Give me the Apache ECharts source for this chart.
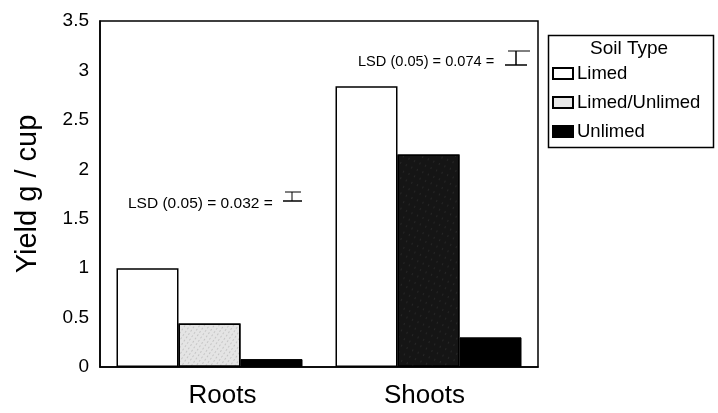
<!DOCTYPE html>
<html>
<head>
<meta charset="utf-8">
<script src="https://cdn.jsdelivr.net/npm/echarts@6/dist/echarts.min.js"></script>
<style>
  html, body { margin: 0; padding: 0; background: #fff; }
  #chart { width: 718px; height: 413px; }
</style>
</head>
<body>
<div id="chart"></div>
<script>
const categories = ['Roots', 'Shoots']
const seriesNames = ['Limed', 'Limed/Unlimed', 'Unlimed']
const limed = [1.0, 2.84]
const limedUnlimed = [0.44, 2.15]
const unlimed = [0.08, 0.3]
const yTicks = [0, 0.5, 1, 1.5, 2, 2.5, 3, 3.5]
const lsdLabels = ['LSD (0.05) = 0.032 =', 'LSD (0.05) = 0.074 =']

const font = 'Liberation Sans, Arial, sans-serif'
const chart = echarts.init(document.getElementById('chart'))

// speckled fill used for the mixed soil bars
const speckleLight = {
  symbol: 'rect', symbolSize: 0.6, color: 'rgba(0,0,0,0.45)',
  dashArrayX: [1, 3], dashArrayY: [2, 2], rotation: 0.6
}
const speckleDark = {
  symbol: 'rect', symbolSize: 0.5, color: 'rgba(255,255,255,0.3)',
  dashArrayX: [1, 5], dashArrayY: [2, 5], rotation: 0.4
}

const barBase = { type: 'bar', barWidth: 62, barGap: '0%' }

const option = {
  animation: false,
  backgroundColor: '#fff',
  grid: {
    left: 100, right: 180, top: 21, bottom: 46,
    show: true, borderColor: '#000', borderWidth: 1.5, backgroundColor: 'transparent'
  },
  xAxis: {
    type: 'category',
    data: categories,
    axisLine: { lineStyle: { color: '#000', width: 1.5 } },
    axisTick: { show: false },
    axisLabel: {
      color: '#000', fontSize: 26, fontFamily: font, margin: 16,
      formatter: v => v === 'Roots' ? '{r|' + v + '}' : '{s|' + v + '}',
      rich: {
        r: { fontSize: 26, fontFamily: font, color: '#000', padding: [0, 0, 0, 26] },
        s: { fontSize: 26, fontFamily: font, color: '#000', padding: [0, 8, 0, 0] }
      }
    }
  },
  yAxis: {
    type: 'value',
    min: 0, max: 3.5, interval: 0.5,
    name: 'Yield g / cup',
    nameLocation: 'middle',
    nameGap: 58,
    nameTextStyle: { color: '#000', fontSize: 29, fontFamily: font },
    splitLine: { show: false },
    axisLine: { show: true, lineStyle: { color: '#000', width: 1.5 } },
    axisTick: { show: false },
    axisLabel: {
      color: '#000', fontSize: 19, fontFamily: font, margin: 11,
      formatter: v => yTicks.includes(v) ? String(v) : ''
    }
  },
  legend: {
    orient: 'vertical',
    left: 547, top: 59,
    itemWidth: 20, itemHeight: 11, itemGap: 10,
    icon: 'rect',
    data: seriesNames,
    textStyle: { color: '#000', fontSize: 18.5, fontFamily: font, padding: [0, 0, 0, -1] }
  },
  graphic: [
    { type: 'rect', left: 546, top: 33, shape: { width: 165, height: 112 },
      style: { fill: 'none', stroke: '#000', lineWidth: 1.5 } },
    { type: 'text', left: 590, top: 39,
      style: { text: 'Soil Type', fill: '#000', fontSize: 19, fontFamily: font } },
    { type: 'text', left: 128, top: 196,
      style: { text: lsdLabels[0], fill: '#000', fontSize: 15.5, fontFamily: font } },
    { type: 'polyline', shape: { points: [[285, 192], [301, 192]] }, style: { stroke: '#000', lineWidth: 1 } },
    { type: 'polyline', shape: { points: [[283, 201], [302, 201]] }, style: { stroke: '#000', lineWidth: 1.5 } },
    { type: 'polyline', shape: { points: [[292, 192], [292, 201]] }, style: { stroke: '#000', lineWidth: 1 } },
    { type: 'text', left: 358, top: 54,
      style: { text: lsdLabels[1], fill: '#000', fontSize: 14.6, fontFamily: font } },
    { type: 'polyline', shape: { points: [[508, 51], [530, 51]] }, style: { stroke: '#000', lineWidth: 1 } },
    { type: 'polyline', shape: { points: [[505, 65], [527, 65]] }, style: { stroke: '#000', lineWidth: 1.5 } },
    { type: 'polyline', shape: { points: [[516, 51], [516, 65]] }, style: { stroke: '#000', lineWidth: 1.5 } }
  ],
  series: [
    Object.assign({}, barBase, {
      name: seriesNames[0],
      data: limed,
      itemStyle: { color: '#fff', borderColor: '#000', borderWidth: 1.5 }
    }),
    Object.assign({}, barBase, {
      name: seriesNames[1],
      data: limedUnlimed.map((v, i) => ({
        value: v,
        itemStyle: i === 0
          ? { color: '#e4e4e4', borderColor: '#000', borderWidth: 1.5, decal: speckleLight }
          : { color: '#151515', borderColor: '#000', borderWidth: 1.5, decal: speckleDark }
      })),
      itemStyle: { color: '#e8e8e8', borderColor: '#000', borderWidth: 1.5 }
    }),
    Object.assign({}, barBase, {
      name: seriesNames[2],
      data: unlimed,
      itemStyle: { color: '#000', borderColor: '#000', borderWidth: 1 }
    })
  ]
}

chart.setOption(option)
</script>
</body>
</html>
